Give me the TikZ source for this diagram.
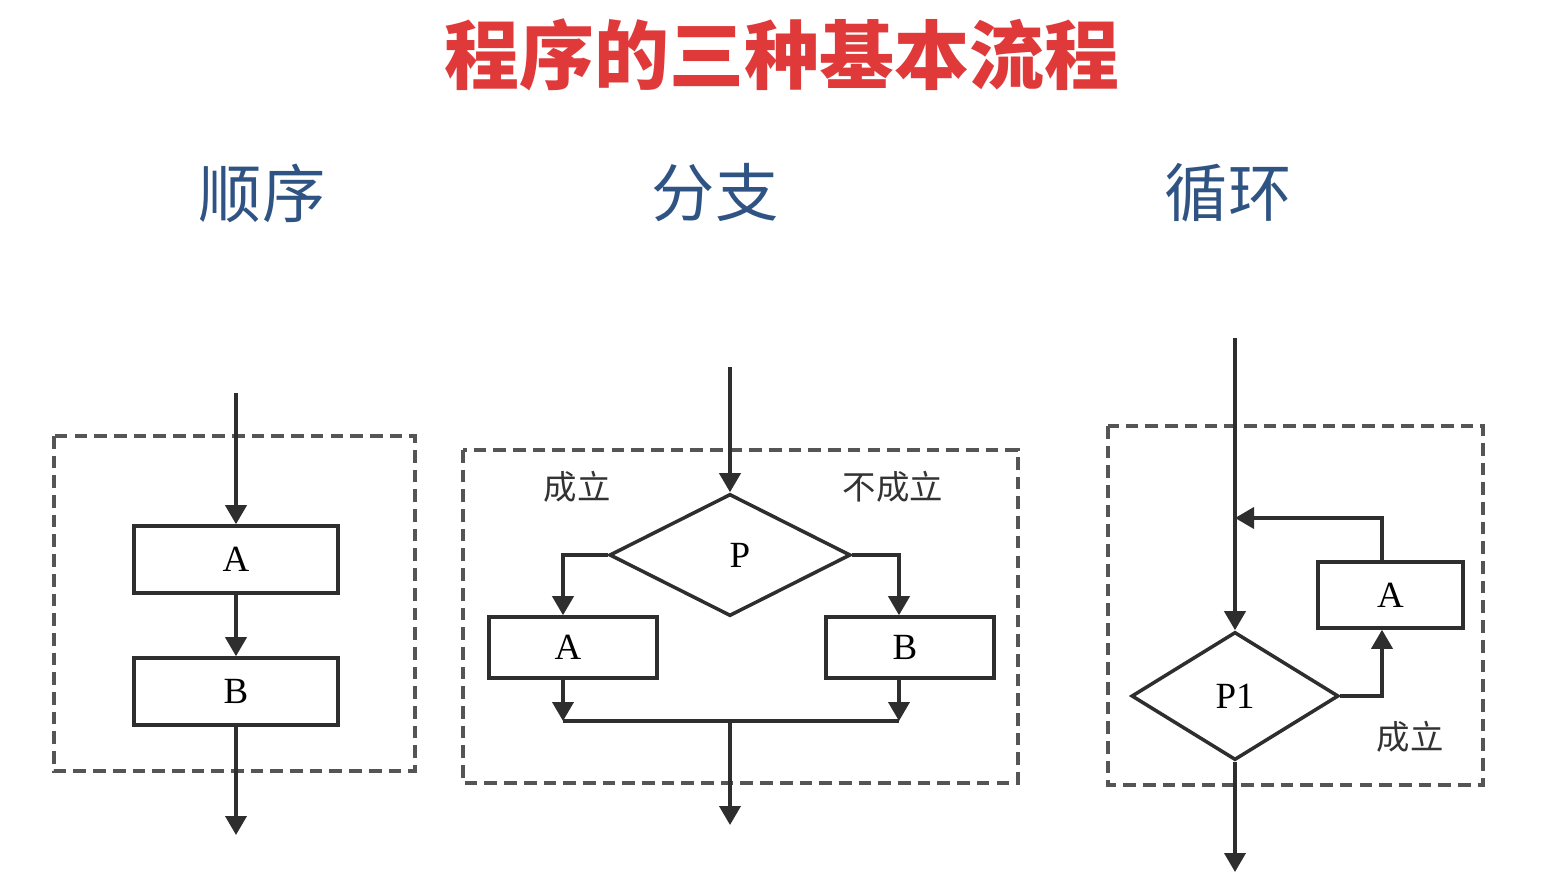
\documentclass[tikz,border=0pt]{standalone}
\usepackage{fontspec}
\setmainfont{Liberation Serif}
\newfontfamily\cjk{Noto Sans CJK SC}
\usetikzlibrary{arrows.meta, positioning, shapes.geometric}
\definecolor{titlered}{HTML}{E0393A}
\definecolor{headblue}{HTML}{2F5383}
\definecolor{linegrey}{HTML}{2E2E2E}
\definecolor{framegrey}{HTML}{555555}
\tikzset{
  >={Triangle[length=5.4pt, width=6pt]},
  procbox/.style={rectangle, draw=linegrey, line width=1pt, minimum height=0.67cm,
                  inner sep=0pt, font=\fontsize{10.5}{10.5}\selectfont},
  decide/.style={diamond, draw=linegrey, line width=1pt, inner sep=0pt,
                 font=\fontsize{10.5}{10.5}\selectfont},
  flow/.style={->, line width=1pt, draw=linegrey},
  link/.style={line width=1pt, draw=linegrey},
  frame/.style={draw=framegrey, line width=1pt, dash pattern=on 3.6pt off 2pt},
  lbl/.style={font=\cjk\fontsize{9.5}{9.5}\selectfont, text=black!80},
  head/.style={font=\cjk\fontsize{18}{18}\selectfont, text=headblue},
}

\begin{document}
\begin{tikzpicture}[x=0.01cm, y=-0.01cm]
  \useasboundingbox (0,0) rectangle (1554,888);

  % titles
  \node[font=\cjk\bfseries\fontsize{21.3}{21.3}\selectfont, text=titlered] (title) at (782,55) {程序的三种基本流程};
  \node[head] (hseq) at (262,193) {顺序};
  \node[head] (hbr) at (715,193) {分支};
  \node[head] (hloop) at (1228,193) {循环};

  % sequence
  \draw[frame] (54,436) rectangle (415,771);
  \node[procbox, minimum width=2.04cm] (sa) at (236,559.5) {A};
  \node[procbox, minimum width=2.04cm] (sb) at (236,691.5) {B};
  \coordinate (sin) at (236,393);
  \coordinate (sout) at (236,835);
  \draw[flow] (sin) -- (sa);
  \draw[flow] (sa) -- (sb);
  \draw[flow] (sb) -- (sout);

  % branch
  \draw[frame] (463,450) rectangle (1018,783);
  \node[decide, minimum width=2.41cm, minimum height=1.22cm] (p) at (730,555) {\hspace{0.2cm}P};
  \node[procbox, minimum width=1.68cm, minimum height=0.61cm] (ba) at (573,647.5) {\hspace{-0.1cm}A};
  \node[procbox, minimum width=1.68cm, minimum height=0.61cm] (bb) at (910,647.5) {\hspace{-0.1cm}B};
  \coordinate (bin) at (730,367);
  \coordinate (bout) at (730,825);
  \coordinate (ml) at (563,721);
  \coordinate (mr) at (899,721);
  \draw[flow] (bin) -- (p);
  \draw[flow] (p.west) -| ([xshift=-0.1cm]ba.north);
  \draw[flow] (p.east) -| ([xshift=-0.11cm]bb.north);
  \draw[flow] ([xshift=-0.1cm]ba.south) -- (ml);
  \draw[flow] ([xshift=-0.11cm]bb.south) -- (mr);
  \draw[link] (ml) -- (mr);
  \draw[flow] (ml -| p) -- (bout);
  \node[lbl] (yes) at (577,487) {成立};
  \node[lbl] (no) at (893,487) {不成立};

  % loop
  \draw[frame] (1108,426) rectangle (1483,785);
  \node[decide, minimum width=2.07cm, minimum height=1.28cm] (p1) at (1235,696) {P1};
  \node[procbox, minimum width=1.45cm, minimum height=0.66cm] (la) at (1390.5,595) {A};
  \coordinate (lin) at (1235,338);
  \coordinate (lout) at (1235,872);
  \coordinate (lj) at (1235,518);
  \draw[flow] (lin) -- (p1);
  \draw[flow] (p1.east) -| ([xshift=-0.085cm]la.south);
  \draw[flow] ([xshift=-0.085cm]la.north) |- (lj);
  \draw[flow] (p1) -- (lout);
  \node[lbl] (ok) at (1410,737) {成立};
\end{tikzpicture}
\end{document}
